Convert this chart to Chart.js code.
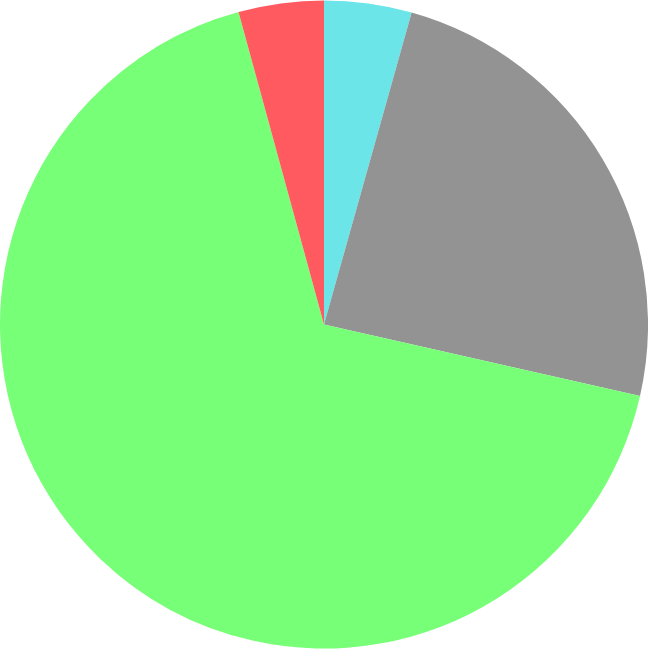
<!DOCTYPE html>
<html>
<head>
<meta charset="utf-8">
<script src="https://cdn.jsdelivr.net/npm/chart.js@4/dist/chart.umd.min.js"></script>
<style>
html,body{margin:0;padding:0;background:#fff;}
#wrap{width:648px;height:649px;}
</style>
</head>
<body>
<div id="wrap"><canvas id="c"></canvas></div>
<script>
const categories = ["A", "B", "C", "D"];
const values = [4.36, 24.18, 67.21, 4.25];
const colors = ["#6be5e8", "#939393", "#77ff77", "#ff5a5f"];

new Chart(document.getElementById('c'), {
  type: 'pie',
  data: {
    labels: categories,
    datasets: [{
      data: values,
      backgroundColor: colors,
      borderWidth: 0
    }]
  },
  options: {
    responsive: true,
    maintainAspectRatio: false,
    animation: false,
    layout: { padding: 0 },
    plugins: { legend: { display: false }, tooltip: { enabled: false } }
  }
});
</script>
</body>
</html>
